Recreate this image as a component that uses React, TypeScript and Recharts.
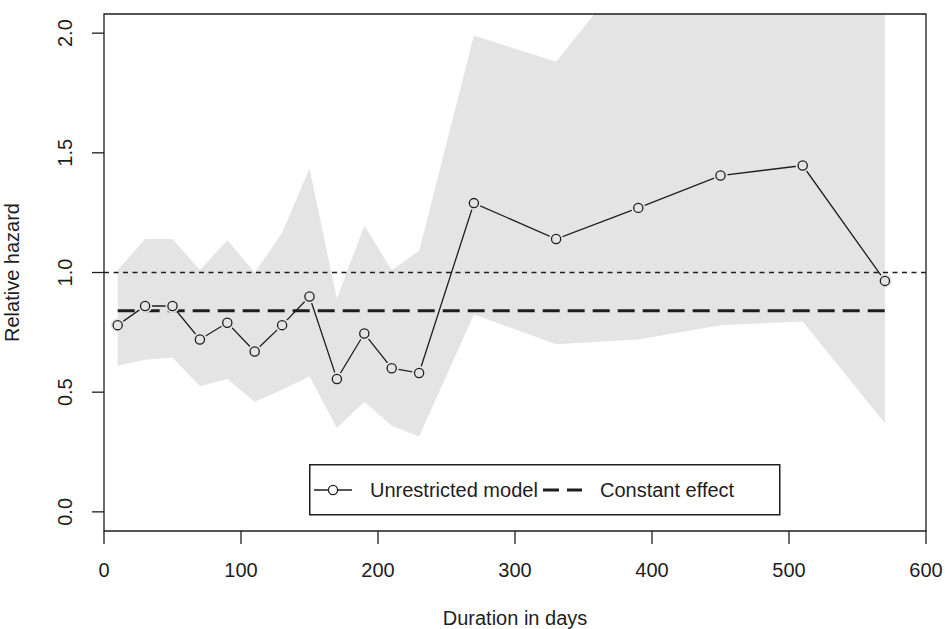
import React from 'react';
import {
  ComposedChart,
  Area,
  Line,
  XAxis,
  YAxis,
  ReferenceLine,
  ReferenceArea,
  Legend,
} from 'recharts';

// Duration (days) at which the hazard was estimated
const days = [10, 30, 50, 70, 90, 110, 130, 150, 170, 190, 210, 230, 270, 330, 390, 450, 510, 570];
// Unrestricted model: relative hazard estimates
const hazard = [0.78, 0.86, 0.86, 0.72, 0.79, 0.67, 0.78, 0.9, 0.555, 0.745, 0.6, 0.58, 1.29, 1.14, 1.27, 1.405, 1.447, 0.965];
// Confidence band (upper / lower)
const upper = [1.01, 1.14, 1.14, 1.01, 1.135, 1.0, 1.165, 1.435, 0.89, 1.195, 1.01, 1.09, 1.99, 1.88, 2.31, 2.6, 2.9, 3.3];
const lower = [0.61, 0.635, 0.645, 0.525, 0.555, 0.46, 0.51, 0.565, 0.35, 0.46, 0.36, 0.315, 0.825, 0.7, 0.72, 0.78, 0.795, 0.37];
// Constant-effect model
const constantEffect = 0.84;
const referenceHazard = 1.0;

const xTicks = [0, 100, 200, 300, 400, 500, 600];
const yTicks = [0, 0.5, 1, 1.5, 2];
const xDomain: [number, number] = [0, 600];
const yDomain: [number, number] = [-0.08, 2.08];

const seriesNames = { model: 'Unrestricted model', constant: 'Constant effect' };
const xTitle = 'Duration in days';
const yTitle = 'Relative hazard';

const rows = days.map((d, i) => ({
  day: d,
  hazard: hazard[i],
  band: [lower[i], upper[i]],
  constant: constantEffect,
}));

const FONT = '"Liberation Sans", Arial, Helvetica, sans-serif';
const INK = '#1e1e1e';
const BAND = '#e4e4e4';

const XTick = (props: any) => {
  const { x, y, payload } = props;
  return (
    <text x={x} y={y} dy={31} textAnchor="middle" fontSize={20} fontFamily={FONT} fill={INK}>
      {payload.value}
    </text>
  );
};

const YTick = (props: any) => {
  const { x, y, payload } = props;
  const tx = x - 18;
  return (
    <text
      x={tx}
      y={y}
      transform={`rotate(-90, ${tx}, ${y})`}
      textAnchor="middle"
      fontSize={20}
      fontFamily={FONT}
      fill={INK}
    >
      {Number(payload.value).toFixed(1)}
    </text>
  );
};

const PointDot = (props: any) => {
  const { cx, cy } = props;
  if (cx == null || cy == null) return null;
  return (
    <g>
      <circle cx={cx} cy={cy} r={7} fill={BAND} stroke="none" />
      <circle cx={cx} cy={cy} r={4.6} fill="none" stroke={INK} strokeWidth={1.3} />
    </g>
  );
};

const LegendBox = () => (
  <svg width={472} height={52} style={{ display: 'block' }}>
    <rect x={0.75} y={0.75} width={470} height={50} fill="#fff" stroke={INK} strokeWidth={1.5} />
    <line x1={5} y1={26} x2={43} y2={26} stroke={INK} strokeWidth={1.3} />
    <circle cx={24} cy={26} r={4.6} fill="#fff" stroke={INK} strokeWidth={1.3} />
    <text x={61} y={33} fontSize={20} fontFamily={FONT} fill={INK}>
      {seriesNames.model}
    </text>
    <line x1={234} y1={26} x2={273} y2={26} stroke={INK} strokeWidth={3} strokeDasharray="16 8" />
    <text x={291} y={33} fontSize={20} fontFamily={FONT} fill={INK}>
      {seriesNames.constant}
    </text>
  </svg>
);

export default function App() {
  return (
    <div style={{ position: 'absolute', left: 0, top: 0, width: 945, height: 629, background: '#fff' }}>
      <ComposedChart
        width={945}
        height={629}
        data={rows}
        margin={{ top: 14, right: 19, bottom: 38, left: 44 }}
      >
        <XAxis
          dataKey="day"
          type="number"
          domain={xDomain}
          ticks={xTicks}
          height={60}
          tickSize={13}
          axisLine={false}
          tickLine={{ stroke: INK, strokeWidth: 1.3 }}
          tick={<XTick />}
          label={{
            value: xTitle,
            position: 'insideBottom',
            offset: 0,
            content: (p: any) => (
              <text
                x={p.viewBox.x + p.viewBox.width / 2}
                y={625}
                textAnchor="middle"
                fontSize={20}
                fontFamily={FONT}
                fill={INK}
              >
                {xTitle}
              </text>
            ),
          }}
        />
        <YAxis
          type="number"
          domain={yDomain}
          ticks={yTicks}
          allowDataOverflow
          width={60}
          tickSize={12}
          axisLine={false}
          tickLine={{ stroke: INK, strokeWidth: 1.3 }}
          tick={<YTick />}
          label={{
            value: yTitle,
            content: (p: any) => {
              const cy = p.viewBox.y + p.viewBox.height / 2;
              return (
                <text
                  x={19}
                  y={cy}
                  transform={`rotate(-90, 19, ${cy})`}
                  textAnchor="middle"
                  fontSize={20}
                  fontFamily={FONT}
                  fill={INK}
                >
                  {yTitle}
                </text>
              );
            },
          }}
        />
        <Area
          type="linear"
          dataKey="band"
          stroke="none"
          fill={BAND}
          fillOpacity={1}
          isAnimationActive={false}
          legendType="none"
        />
        <ReferenceLine y={referenceHazard} stroke={INK} strokeWidth={1.3} strokeDasharray="5 4.5" />
        <Line
          type="linear"
          dataKey="hazard"
          name={seriesNames.model}
          stroke={INK}
          strokeWidth={1.3}
          dot={<PointDot />}
          activeDot={false}
          isAnimationActive={false}
        />
        <Line
          type="linear"
          dataKey="constant"
          name={seriesNames.constant}
          stroke={INK}
          strokeWidth={3}
          strokeDasharray="17 8"
          dot={false}
          activeDot={false}
          isAnimationActive={false}
        />
        <ReferenceArea
          x1={xDomain[0]}
          x2={xDomain[1]}
          y1={yDomain[0]}
          y2={yDomain[1]}
          fill="none"
          stroke={INK}
          strokeWidth={1.3}
          ifOverflow="visible"
        />
        <Legend
          layout="horizontal"
          verticalAlign="middle"
          align="center"
          content={() => <LegendBox />}
          wrapperStyle={{ position: 'absolute', left: 309, top: 464, width: 472, height: 52 }}
        />
      </ComposedChart>
    </div>
  );
}
